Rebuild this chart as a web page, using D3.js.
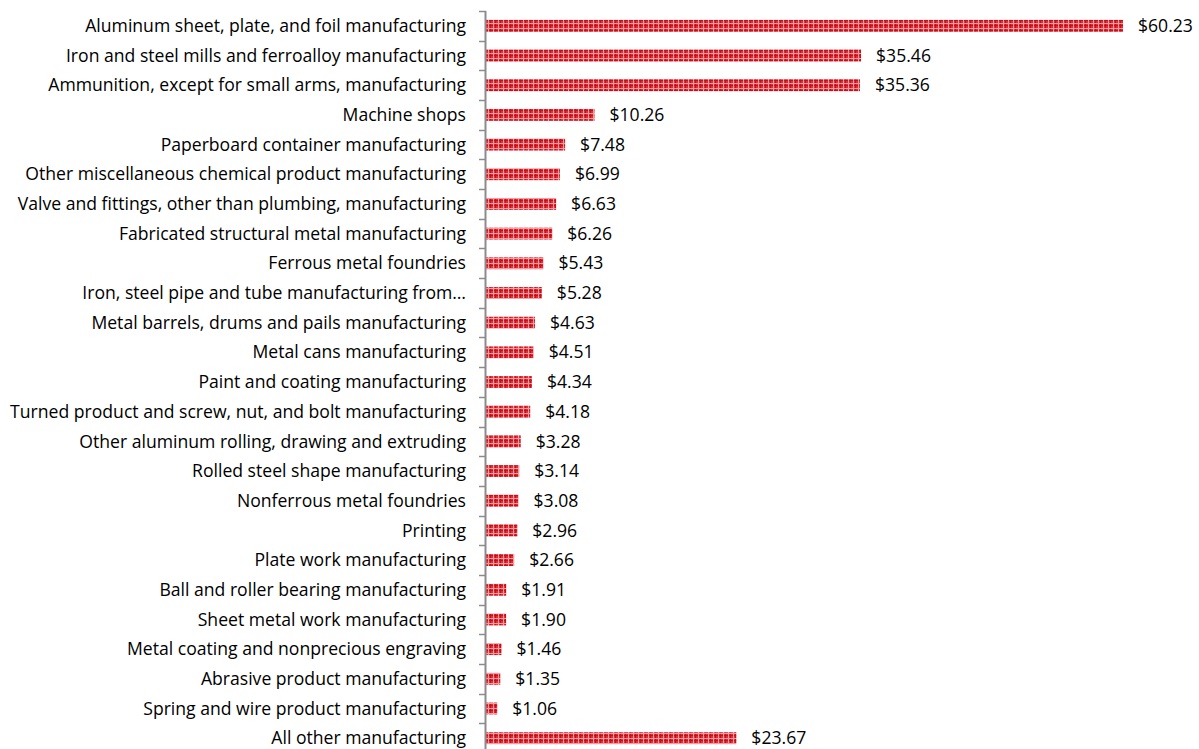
<!DOCTYPE html>
<html>
<head>
<meta charset="utf-8">
<script src="https://cdn.jsdelivr.net/npm/d3@7"></script>
<style>
  html, body { margin: 0; padding: 0; background: #fff; }
  svg { display: block; }
</style>
</head>
<body>
<svg id="chart" width="1199" height="749"></svg>
<script>
const categories = [
  "Aluminum sheet, plate, and foil manufacturing",
  "Iron and steel mills and ferroalloy manufacturing",
  "Ammunition, except for small arms, manufacturing",
  "Machine shops",
  "Paperboard container manufacturing",
  "Other miscellaneous chemical product manufacturing",
  "Valve and fittings, other than plumbing, manufacturing",
  "Fabricated structural metal manufacturing",
  "Ferrous metal foundries",
  "Iron, steel pipe and tube manufacturing from…",
  "Metal barrels, drums and pails manufacturing",
  "Metal cans manufacturing",
  "Paint and coating manufacturing",
  "Turned product and screw, nut, and bolt manufacturing",
  "Other aluminum rolling, drawing and extruding",
  "Rolled steel shape manufacturing",
  "Nonferrous metal foundries",
  "Printing",
  "Plate work manufacturing",
  "Ball and roller bearing manufacturing",
  "Sheet metal work manufacturing",
  "Metal coating and nonprecious engraving",
  "Abrasive product manufacturing",
  "Spring and wire product manufacturing",
  "All other manufacturing"
];
const values = [60.23, 35.46, 35.36, 10.26, 7.48, 6.99, 6.63, 6.26, 5.43, 5.28,
  4.63, 4.51, 4.34, 4.18, 3.28, 3.14, 3.08, 2.96, 2.66, 1.91, 1.90, 1.46, 1.35, 1.06, 23.67];

const data = categories.map((c, i) => ({ name: c, value: values[i] }));

const svg = d3.select("#chart");

// plaid fill for the bars
const defs = svg.append("defs");
const pat = defs.append("pattern")
  .attr("id", "plaid")
  .attr("patternUnits", "userSpaceOnUse")
  .attr("width", 5).attr("height", 5);
pat.append("rect").attr("width", 5).attr("height", 5).attr("fill", "#de3038");
pat.append("rect").attr("x", 0).attr("y", 0).attr("width", 1).attr("height", 5).attr("fill", "#c8101b");
pat.append("rect").attr("x", 0).attr("y", 0).attr("width", 5).attr("height", 1).attr("fill", "#c8101b");
pat.append("rect").attr("x", 3).attr("y", 0).attr("width", 1).attr("height", 5).attr("fill", "#f09ca0");
pat.append("rect").attr("x", 0).attr("y", 3).attr("width", 5).attr("height", 1).attr("fill", "#f09ca0");

const x0 = 486;
const x = d3.scaleLinear().domain([0, 60.23]).range([x0, 1123]);
const y = d3.scaleBand().domain(categories).range([11, 753]).paddingInner(0.6).paddingOuter(0.3);
const yb = d3.scaleBand().domain(categories).range([11, 753]);

// bars
svg.append("g").selectAll("rect")
  .data(data).join("rect")
  .attr("x", x(0))
  .attr("y", d => y(d.name))
  .attr("width", d => x(d.value) - x(0))
  .attr("height", y.bandwidth())
  .attr("fill", "url(#plaid)");

// category axis with ticks at band boundaries
const axisG = svg.append("g");
axisG.append("line")
  .attr("x1", x0 - 0.5).attr("x2", x0 - 0.5)
  .attr("y1", 11).attr("y2", 753)
  .attr("stroke", "#8c8c8c").attr("stroke-width", 2);
const bounds = categories.map(c => yb(c)).concat([753]);
axisG.selectAll("line.tick")
  .data(bounds).join("line")
  .attr("class", "tick")
  .attr("x1", x0 - 7).attr("x2", x0)
  .attr("y1", d => Math.round(d) + 0.5).attr("y2", d => Math.round(d) + 0.5)
  .attr("stroke", "#8c8c8c").attr("stroke-width", 1.5);

// category labels
svg.append("g").selectAll("text")
  .data(data).join("text")
  .attr("x", 466)
  .attr("y", d => yb(d.name) + yb.bandwidth() / 2)
  .attr("dy", "0.35em")
  .attr("text-anchor", "end")
  .attr("font-family", "'Open Sans', sans-serif")
  .attr("font-size", 17.6)
  .attr("fill", "#000")
  .text(d => d.name);

// value labels
const fmt = d3.format(".2f");
svg.append("g").selectAll("text")
  .data(data).join("text")
  .attr("x", d => x(d.value) + 15)
  .attr("y", d => yb(d.name) + yb.bandwidth() / 2)
  .attr("dy", "0.35em")
  .attr("font-family", "'Open Sans', sans-serif")
  .attr("font-size", 17.6)
  .attr("fill", "#000")
  .text(d => "$" + fmt(d.value));
</script>
</body>
</html>
